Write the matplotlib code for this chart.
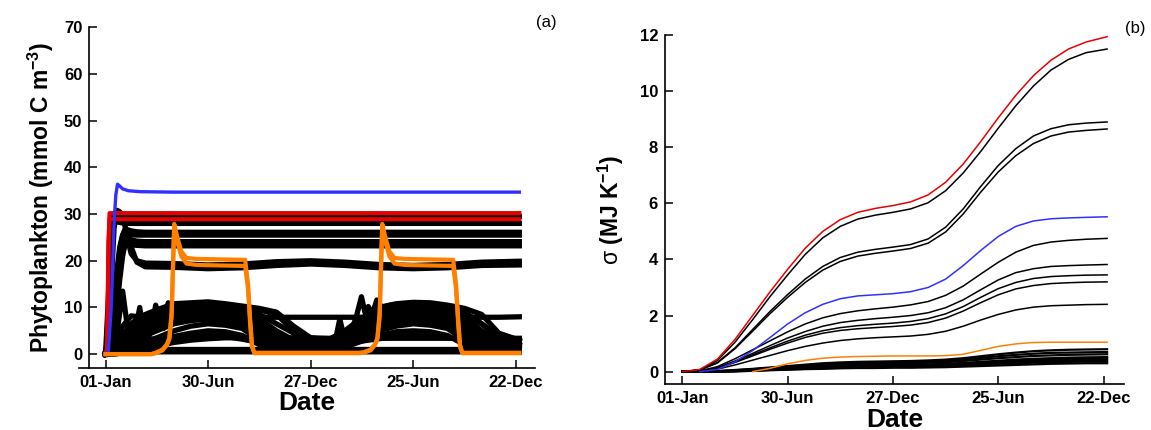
import numpy as np
import matplotlib
matplotlib.use("Agg")
import matplotlib.pyplot as plt

plt.rcParams['font.family'] = ['Liberation Sans', 'DejaVu Sans']
plt.rcParams['mathtext.fontset'] = 'custom'
plt.rcParams['mathtext.rm'] = 'Liberation Sans'
plt.rcParams['mathtext.bf'] = 'Liberation Sans:bold'

RED = '#e60000'
BLUE = '#3030ff'
ORANGE = '#ff8000'

date_ticks = [0, 180, 360, 540, 720]
date_labels = ['01-Jan', '30-Jun', '27-Dec', '25-Jun', '22-Dec']

# ---------------- (a) phytoplankton, days since 01-Jan ----------------
t_a = [0, 10, 20, 30, 45, 60, 90, 120, 150, 180, 210, 240, 270, 300,
       330, 360, 390, 420, 450, 480, 510, 540, 570, 600, 630, 660, 690, 726]

# seasonal cluster below ~11
blob = [
    [0, 0.5, 2.0, 4.0, 6.5, 8.0, 9.5, 10.8, 11.0, 11.2, 10.8, 10.3, 9.8, 9.0,
     6.0, 3.5, 3.0, 4.5, 7.5, 10.0, 10.8, 11.1, 11.0, 10.5, 9.8, 8.5, 4.5, 3.0],
    [0, 0.3, 1.8, 3.5, 5.8, 7.2, 9.0, 10.2, 10.6, 10.7, 10.4, 10.0, 8.5, 6.5,
     4.5, 2.8, 2.8, 5.0, 7.8, 9.5, 10.3, 10.7, 10.6, 10.0, 8.8, 6.5, 3.8, 2.8],
    [0, 0.3, 1.5, 3.0, 5.0, 6.5, 8.5, 9.5, 10.0, 10.2, 10.0, 9.6, 7.5, 5.0,
     3.0, 2.0, 2.5, 4.5, 7.0, 9.0, 9.8, 10.2, 10.0, 9.6, 8.0, 5.0, 3.0, 2.5],
    [0, 0.2, 1.2, 2.8, 4.5, 6.0, 7.8, 9.0, 9.6, 9.9, 9.6, 9.2, 6.8, 4.2,
     2.5, 1.8, 2.2, 4.0, 6.5, 8.5, 9.4, 9.8, 9.6, 9.0, 7.0, 4.2, 2.5, 2.0],
    [0, 0.2, 1.0, 2.5, 4.0, 5.5, 7.0, 8.5, 9.2, 9.5, 9.2, 8.8, 6.0, 3.5,
     2.0, 1.5, 2.0, 3.5, 6.0, 8.0, 9.0, 9.4, 9.2, 8.5, 6.0, 3.5, 2.0, 1.5],
    [0, 0.2, 0.9, 2.2, 3.8, 5.0, 6.5, 8.0, 8.7, 9.0, 8.7, 8.2, 5.5, 3.0,
     1.6, 1.2, 1.8, 3.2, 5.5, 7.5, 8.5, 9.0, 8.7, 8.0, 5.5, 3.0, 1.6, 1.2],
    [0, 0.2, 0.8, 2.0, 3.5, 4.5, 6.0, 7.5, 8.2, 8.5, 8.2, 7.5, 5.0, 2.5,
     1.2, 1.0, 1.5, 3.0, 5.0, 7.0, 8.0, 8.5, 8.2, 7.5, 5.0, 2.5, 1.2, 1.0],
    [0, 0.1, 0.6, 1.8, 3.0, 4.0, 5.5, 7.0, 7.7, 8.0, 7.7, 7.0, 4.5, 2.2,
     1.1, 0.9, 1.2, 2.8, 4.5, 6.5, 7.5, 8.0, 7.7, 7.0, 4.5, 2.2, 1.1, 0.9],
    [0, 0.1, 0.5, 1.5, 2.5, 3.5, 5.0, 6.5, 7.2, 7.5, 7.2, 6.5, 4.0, 2.0,
     1.0, 0.8, 1.0, 2.5, 4.0, 6.0, 7.0, 7.5, 7.2, 6.5, 4.0, 2.0, 1.0, 0.8],
    [0, 0.1, 0.3, 1.0, 2.0, 2.5, 3.5, 5.0, 6.0, 6.5, 6.2, 5.5, 3.0, 1.5,
     0.8, 0.6, 0.8, 2.0, 3.5, 5.0, 6.0, 6.5, 6.2, 5.5, 3.0, 1.5, 0.8, 0.6],
    [0, 0.0, 0.2, 0.8, 1.5, 2.0, 3.0, 3.8, 4.5, 5.0, 4.8, 4.0, 2.0, 1.0,
     0.5, 0.4, 0.6, 1.5, 2.8, 4.0, 4.8, 5.0, 4.8, 4.0, 2.0, 1.0, 0.5, 0.4],
    [0, 0.0, 0.1, 0.5, 1.0, 1.5, 2.2, 3.0, 3.5, 4.0, 3.8, 3.2, 2.5, 2.0,
     1.5, 1.2, 1.5, 2.2, 2.8, 3.3, 3.8, 4.0, 3.8, 3.5, 3.3, 3.2, 3.2, 3.2],
    [0, 0.0, 0.2, 1.5, 3.0, 4.0, 5.5, 6.8, 7.8, 8.2, 8.8, 9.5, 9.5, 8.5,
     5.0, 2.5, 2.0, 3.5, 5.5, 7.0, 8.3, 9.0, 9.4, 9.6, 9.0, 6.5, 3.5, 2.0],
    [0, 0.0, 0.1, 0.3, 0.8, 1.2, 1.8, 2.5, 3.0, 3.3, 3.5, 3.5, 3.5, 3.5,
     3.5, 3.5, 3.4, 3.4, 3.4, 3.4, 3.4, 3.4, 3.4, 3.4, 3.4, 3.4, 3.4, 3.4],
    [0, 0.2, 0.4, 0.5, 0.5, 0.5, 0.5, 0.5, 0.5, 0.5, 0.5, 0.5, 0.5, 0.5,
     0.5, 0.5, 0.5, 0.5, 0.5, 0.5, 0.5, 0.5, 0.5, 0.5, 0.5, 0.5, 0.5, 0.5],
    [0, 0.1, 0.5, 1.0, 1.0, 1.0, 1.0, 1.0, 1.0, 1.0, 1.0, 1.0, 1.0, 1.0,
     1.0, 1.0, 1.0, 1.0, 1.0, 1.0, 1.0, 1.0, 1.0, 1.0, 1.0, 1.0, 1.0, 1.0],
]
line8 = [0, 0.2, 3.0, 6.0, 8.2, 8.0, 7.9, 7.9, 7.9, 7.9, 7.9, 7.9, 7.9, 7.9,
         7.9, 7.9, 7.9, 7.9, 7.9, 7.9, 7.9, 7.9, 7.9, 7.9, 7.9, 7.9, 7.9, 8.0]

# early oscillating lines
spike1_t = [0, 15, 24, 30, 36, 42, 48, 54, 60, 66, 72, 80, 88, 95, 102, 110, 118, 130, 150, 180]
spike1_v = [0, 0.5, 8.0, 13.5, 8.0, 2.0, 1.5, 6.0, 10.0, 5.0, 2.5, 5.0, 10.5, 7.0, 5.5, 11.0, 8.0, 9.0, 10.0, 9.5]
spike2_t = [390, 405, 411, 418, 430, 440, 449, 455, 461, 468, 476, 485, 500, 530]
spike2_v = [3.0, 4.0, 7.5, 4.0, 4.5, 8.0, 12.3, 9.0, 10.2, 8.5, 11.6, 10.0, 10.5, 10.0]

# upper black lines
h_days = [0, 5, 10, 15, 20, 25, 30, 35, 40, 45, 55, 70, 120, 180, 240, 300,
          360, 420, 480, 540, 600, 660, 726]
upper = [
    [0, 2, 15, 27, 30.8, 30.5, 29.5, 27, 24, 21.5, 20.0, 19.5, 19.4, 19.1,
     19.3, 19.8, 20.0, 19.7, 19.2, 19.0, 19.2, 19.7, 19.9],
    [0, 0.5, 3, 9, 16, 22, 25.5, 27, 26, 23, 19.7, 18.7, 18.6, 18.3,
     18.5, 19.0, 19.3, 19.0, 18.5, 18.3, 18.5, 19.0, 19.1],
    [0, 5, 27, 28.5, 28.3, 28.2, 28.1, 28.0, 28.0, 28.0, 28.0, 28.0, 28.0, 28.0,
     28.0, 28.0, 28.0, 28.0, 28.0, 28.0, 28.0, 28.0, 28.0],
    [0, 12, 29.4, 29.5, 29.5, 29.5, 29.5, 29.5, 29.5, 29.5, 29.5, 29.5, 29.5, 29.5,
     29.5, 29.5, 29.5, 29.5, 29.5, 29.5, 29.5, 29.5, 29.5],
    [0, 0.5, 2, 6, 12, 18, 22, 25, 26.6, 26.4, 26.2, 26.1, 26.1, 26.1,
     26.1, 26.1, 26.1, 26.1, 26.1, 26.1, 26.1, 26.1, 26.1],
    [0, 0.5, 3, 10, 18, 23, 25.5, 26, 25.7, 25.6, 25.5, 25.5, 25.5, 25.5,
     25.5, 25.5, 25.5, 25.5, 25.5, 25.5, 25.5, 25.5, 25.5],
    [0, 0.3, 1.5, 5, 10, 16, 21, 24, 25, 24.5, 24.2, 24.1, 24.1, 24.1,
     24.1, 24.1, 24.1, 24.1, 24.1, 24.1, 24.1, 24.1, 24.1],
    [0, 0.3, 2, 8, 15, 20, 22.5, 23.5, 23.6, 23.4, 23.3, 23.2, 23.2, 23.2,
     23.2, 23.2, 23.2, 23.2, 23.2, 23.2, 23.2, 23.2, 23.2],
]

red_a_days = [0, 3, 5, 7, 726]
red_a = [[0, 0.5, 20, 30.2, 30.2], [0, 1.5, 24, 28.9, 28.9]]

blue_a_days = [0, 5, 10, 15, 18, 21, 25, 30, 40, 60, 120, 726]
blue_a = [0, 0.5, 10, 28, 34, 36.4, 36, 35.4, 35, 34.8, 34.7, 34.7]

orange_days = [0, 80, 88, 100, 108, 112, 116, 120.5, 126, 133, 142, 160, 200, 245, 250, 254, 257, 261,
               445, 453, 465, 473, 477, 481, 485.5, 491, 498, 507, 525, 565, 610, 615, 619, 622, 626, 726]
orange_hi = [0, 0, 0.3, 1.0, 2.2, 3.5, 9, 27.9, 25, 22, 20.6, 20.4, 20.3, 20.2, 15, 7, 2, 0.3,
             0.3, 0.4, 1.0, 2.2, 3.5, 9, 27.9, 25, 22, 20.6, 20.4, 20.3, 20.2, 15, 7, 2, 0.3, 0.3]
orange_lo = [0, 0, 0.2, 0.8, 2.0, 3.2, 8, 27.3, 24, 21, 19.4, 19.1, 19.0, 18.9, 14, 6, 1.5, 0.2,
             0.2, 0.3, 0.8, 2.0, 3.2, 8, 27.3, 24, 21, 19.4, 19.1, 19.0, 18.9, 14, 6, 1.5, 0.2, 0.2]

# ---------------- (b) sigma (MJ K-1) ----------------
t_b = [0, 30, 60, 90, 120, 150, 180, 210, 240, 270, 300, 330, 360, 390,
       420, 450, 480, 510, 540, 570, 600, 630, 660, 690, 726]
sig_red = [0, 0.08, 0.45, 1.15, 2.0, 2.85, 3.65, 4.4, 5.0, 5.42, 5.68, 5.82, 5.92,
           6.05, 6.3, 6.75, 7.4, 8.2, 9.05, 9.85, 10.55, 11.1, 11.5, 11.75, 11.94]
t_blue = t_b[1:]
sig_blue = [0, 0.08, 0.35, 0.75, 1.22, 1.7, 2.1, 2.4, 2.6, 2.7, 2.74, 2.78,
            2.85, 3.0, 3.3, 3.78, 4.32, 4.82, 5.18, 5.37, 5.45, 5.48, 5.5, 5.52]
t_orange = t_b[4:]
sig_orange = [0, 0.12, 0.28, 0.4, 0.48, 0.52, 0.54, 0.55, 0.56, 0.56, 0.56,
              0.57, 0.62, 0.76, 0.9, 0.99, 1.04, 1.05, 1.05, 1.05, 1.05]
sig_black = [
    [0, 0.07, 0.4, 1.05, 1.85, 2.68, 3.45, 4.18, 4.77, 5.18, 5.44, 5.58, 5.68,
     5.8, 6.02, 6.45, 7.08, 7.85, 8.68, 9.48, 10.18, 10.75, 11.13, 11.37, 11.5],
    [0, 0.06, 0.33, 0.85, 1.5, 2.15, 2.75, 3.3, 3.75, 4.07, 4.26, 4.36, 4.44,
     4.53, 4.73, 5.15, 5.8, 6.6, 7.35, 7.95, 8.4, 8.66, 8.8, 8.86, 8.9],
    [0, 0.06, 0.31, 0.82, 1.44, 2.07, 2.65, 3.18, 3.62, 3.93, 4.12, 4.22, 4.3,
     4.39, 4.58, 4.98, 5.62, 6.4, 7.12, 7.7, 8.13, 8.4, 8.54, 8.6, 8.65],
    [0, 0.03, 0.18, 0.46, 0.78, 1.1, 1.42, 1.7, 1.92, 2.07, 2.17, 2.24, 2.3,
     2.38, 2.5, 2.72, 3.05, 3.48, 3.9, 4.26, 4.5, 4.62, 4.68, 4.72, 4.75],
    [0, 0.02, 0.14, 0.38, 0.65, 0.93, 1.2, 1.43, 1.62, 1.75, 1.83, 1.89, 1.94,
     2.0, 2.1, 2.28, 2.56, 2.92, 3.27, 3.53, 3.67, 3.75, 3.78, 3.8, 3.82],
    [0, 0.02, 0.13, 0.35, 0.6, 0.85, 1.09, 1.3, 1.46, 1.57, 1.64, 1.69, 1.73,
     1.79, 1.89, 2.06, 2.32, 2.65, 2.96, 3.18, 3.32, 3.39, 3.42, 3.44, 3.45],
    [0, 0.02, 0.12, 0.33, 0.56, 0.8, 1.02, 1.22, 1.37, 1.47, 1.53, 1.57, 1.61,
     1.66, 1.75, 1.91, 2.16, 2.46, 2.74, 2.95, 3.07, 3.14, 3.17, 3.19, 3.2],
    [0, 0.01, 0.09, 0.24, 0.41, 0.58, 0.75, 0.9, 1.02, 1.11, 1.17, 1.21, 1.24,
     1.27, 1.33, 1.44, 1.62, 1.84, 2.04, 2.2, 2.3, 2.35, 2.37, 2.39, 2.4],
]
sig_bundle = [
    [0, 0, 0.02, 0.06, 0.1, 0.15, 0.2, 0.25, 0.3, 0.33, 0.35, 0.36, 0.37,
     0.38, 0.4, 0.43, 0.48, 0.55, 0.62, 0.68, 0.73, 0.76, 0.78, 0.79, 0.8],
    [0, 0, 0.02, 0.05, 0.09, 0.13, 0.18, 0.22, 0.26, 0.29, 0.31, 0.32, 0.33,
     0.34, 0.36, 0.39, 0.43, 0.49, 0.55, 0.6, 0.64, 0.67, 0.68, 0.69, 0.7],
    [0, 0, 0.01, 0.04, 0.07, 0.11, 0.15, 0.19, 0.22, 0.25, 0.27, 0.28, 0.29,
     0.3, 0.32, 0.34, 0.38, 0.43, 0.48, 0.52, 0.56, 0.58, 0.6, 0.61, 0.62],
    [0, 0, 0.01, 0.03, 0.06, 0.09, 0.12, 0.15, 0.18, 0.2, 0.22, 0.23, 0.24,
     0.25, 0.26, 0.28, 0.31, 0.35, 0.39, 0.43, 0.46, 0.48, 0.5, 0.51, 0.52],
    [0, 0, 0.01, 0.02, 0.05, 0.08, 0.11, 0.13, 0.16, 0.18, 0.19, 0.2, 0.21,
     0.22, 0.23, 0.25, 0.28, 0.31, 0.35, 0.38, 0.41, 0.43, 0.45, 0.46, 0.47],
    [0, 0, 0.01, 0.02, 0.04, 0.07, 0.09, 0.12, 0.14, 0.16, 0.17, 0.18, 0.19,
     0.2, 0.21, 0.23, 0.25, 0.28, 0.31, 0.34, 0.37, 0.39, 0.4, 0.41, 0.42],
    [0, 0, 0, 0.02, 0.03, 0.06, 0.08, 0.1, 0.12, 0.14, 0.15, 0.16, 0.17,
     0.17, 0.18, 0.2, 0.22, 0.24, 0.27, 0.3, 0.32, 0.34, 0.35, 0.36, 0.36],
    [0, 0, 0, 0.01, 0.03, 0.05, 0.07, 0.09, 0.1, 0.12, 0.13, 0.13, 0.14,
     0.14, 0.15, 0.16, 0.18, 0.2, 0.22, 0.24, 0.26, 0.28, 0.29, 0.3, 0.3],
]


def style_axis(ax):
    for side in ('top', 'right'):
        ax.spines[side].set_visible(False)
    for side in ('left', 'bottom'):
        ax.spines[side].set_linewidth(1.2)
    ax.tick_params(direction='in', length=5.5, width=1.1, labelsize=12, pad=5)
    ax.set_xticks(date_ticks)
    ax.set_xticklabels(date_labels)
    for lab in ax.get_xticklabels() + ax.get_yticklabels():
        lab.set_fontweight('bold')
    ax.set_xlabel('Date', fontsize=19, fontweight='bold', labelpad=1)


fig = plt.figure(figsize=(11.51, 4.30), dpi=100)

# panel (a)
ax1 = fig.add_axes([0.0689, 0.1449, 0.3959, 0.7916])
lw_a = 3.8
for v in blob:
    ax1.plot(t_a, v, color='black', lw=lw_a)
ax1.plot(t_a, line8, color='black', lw=lw_a)
ax1.plot(spike1_t, spike1_v, color='black', lw=lw_a)
ax1.plot(spike2_t, spike2_v, color='black', lw=lw_a)
for v in upper:
    ax1.plot(h_days, v, color='black', lw=lw_a)
for v in red_a:
    ax1.plot(red_a_days, v, color=RED, lw=3.0)
ax1.plot(blue_a_days, blue_a, color=BLUE, lw=2.4)
ax1.plot(orange_days, orange_hi, color=ORANGE, lw=3.0)
ax1.plot(orange_days, orange_lo, color=ORANGE, lw=3.0)
ax1.set_xlim(-46, 753.5)
ax1.set_ylim(-2.9, 70)
ax1.set_yticks(range(0, 71, 10))
ax1.spines['left'].set_position(('data', -28.4))
style_axis(ax1)
ax1.set_ylabel(r'Phytoplankton (mmol C m$^{\mathbf{-3}}$)', fontsize=16.5,
               fontweight='bold', labelpad=6)
fig.text(0.475, 0.947, '(a)', fontsize=12, ha='center', va='center')

# panel (b)
ax2 = fig.add_axes([0.5778, 0.1063, 0.3988, 0.8123])
for v in sig_bundle:
    ax2.plot(t_b, v, color='black', lw=1.6)
for v in sig_black:
    ax2.plot(t_b, v, color='black', lw=1.1)
ax2.plot(t_orange, sig_orange, color=ORANGE, lw=1.1)
ax2.plot(t_blue, sig_blue, color=BLUE, lw=1.1)
ax2.plot(t_b, sig_red, color=RED, lw=1.1)
ax2.set_xlim(-29.6, 755)
ax2.set_ylim(-0.45, 12)
ax2.set_yticks(range(0, 13, 2))
style_axis(ax2)
ax2.set_ylabel(r'$\mathrm{\sigma}$ (MJ K$^{\mathbf{-1}}$)', fontsize=16.5,
               fontweight='bold', labelpad=10)
fig.text(0.986, 0.933, '(b)', fontsize=12, ha='center', va='center')

fig.savefig('out.png', dpi=100)
